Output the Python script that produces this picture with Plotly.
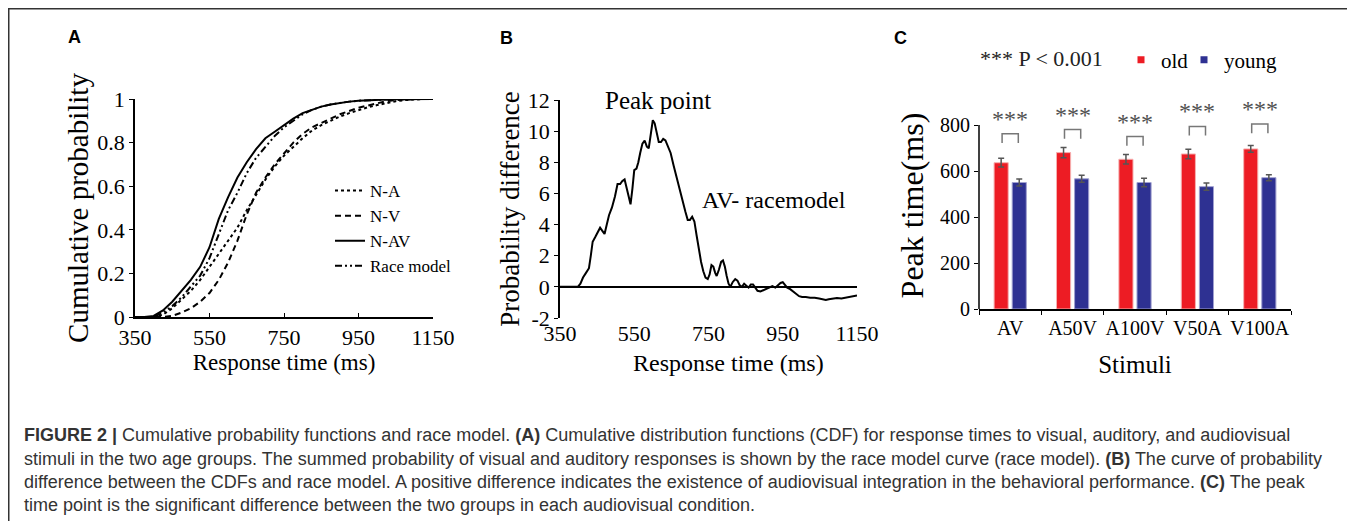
import plotly.graph_objects as go

# The page places the figure 8px from the top-left corner, so the figure is
# sized to fill the rest of the 1355x521 window.
OFF = 8
W, H = 1355 - OFF, 521 - OFF
SERIF = "Liberation Serif"

# ---------------- Panel A data (cumulative probability) ----------------
rt_grid = [350, 375, 400, 425, 450, 475, 500, 525, 550, 575, 600, 625, 650, 675,
           700, 725, 750, 775, 800, 825, 850, 875, 900, 925, 950, 975, 1000,
           1025, 1050, 1075, 1100, 1125, 1150]
cdf_na = [0, 0, 0, 0.01, 0.04, 0.08, 0.12, 0.17, 0.23, 0.29, 0.35, 0.41, 0.49, 0.56,
          0.63, 0.69, 0.74, 0.78, 0.82, 0.855, 0.88, 0.90, 0.92, 0.935, 0.95, 0.962,
          0.972, 0.982, 0.99, 0.995, 0.998, 1, 1]
cdf_nv = [0, 0, 0, 0, 0.005, 0.02, 0.04, 0.07, 0.11, 0.17, 0.25, 0.35, 0.47, 0.57,
          0.64, 0.70, 0.75, 0.80, 0.84, 0.87, 0.89, 0.91, 0.93, 0.945, 0.96, 0.97,
          0.98, 0.99, 0.995, 0.998, 1, 1, 1]
cdf_nav = [0, 0, 0.005, 0.03, 0.07, 0.12, 0.17, 0.23, 0.32, 0.45, 0.55, 0.64, 0.71, 0.77,
           0.82, 0.85, 0.88, 0.91, 0.935, 0.95, 0.965, 0.975, 0.983, 0.988, 0.992, 0.995,
           0.997, 0.998, 0.999, 1, 1, 1, 1]
cdf_race = [0, 0, 0, 0.02, 0.05, 0.09, 0.14, 0.19, 0.27, 0.38, 0.49, 0.57, 0.66, 0.73,
            0.78, 0.83, 0.87, 0.90, 0.93, 0.95, 0.965, 0.975, 0.983, 0.988, 0.992, 0.995,
            0.997, 0.998, 0.999, 1, 1, 1, 1]

# ---------------- Panel B data (AV - race model) ----------------
diff_rt = [350, 398, 405, 412, 420, 428, 433, 438, 445, 452, 458, 464, 470, 476, 482,
           490, 498, 505, 512, 518, 524, 530, 536, 540, 545, 550, 556, 561, 566, 572,
           578, 584, 589, 594, 600, 605, 610, 616, 622, 628, 634, 640, 648, 656, 664,
           672, 680, 688, 694, 700, 706, 712, 718, 724, 730, 736, 742, 748, 753, 758,
           763, 768, 772, 778, 784, 789, 794, 799, 804, 809, 815, 822, 828, 834, 840,
           846, 852, 858, 864, 870, 876, 882, 890, 898, 906, 914, 922, 930, 938, 944,
           950, 956, 962, 970, 978, 986, 994, 1002, 1012, 1024, 1036, 1048, 1058, 1066,
           1074, 1084, 1096, 1108, 1120, 1132, 1142, 1150]
diff_val = [0, 0, 0.2, 0.6, 0.9, 1.2, 2.0, 2.9, 3.2, 3.5, 3.8, 3.6, 3.4, 4.0, 4.6,
            5.1, 5.8, 6.6, 6.6, 6.8, 6.9, 6.3, 5.6, 5.3, 6.3, 7.5, 7.6, 8.0, 8.6, 9.2,
            9.4, 9.0, 8.9, 9.6, 10.7, 10.5, 9.9, 9.3, 9.3, 9.5, 9.4, 9.1, 8.6, 7.8, 7.0,
            6.3, 5.5, 4.8, 4.3, 4.3, 4.5, 4.2, 3.3, 2.4, 1.6, 1.0, 0.6, 0.5, 0.8, 1.4,
            1.3, 0.9, 0.7, 1.1, 1.6, 1.7, 1.3, 0.7, 0.2, 0.0, 0.3, 0.5, 0.4, 0.1, 0.0,
            0.2, 0.1, -0.05, 0.15, 0.15, -0.05, -0.25, -0.3, -0.2, -0.1, -0.05, 0.05, -0.05, 0.1, 0.25,
            0.3, 0.1, -0.05, -0.15, -0.3, -0.45, -0.6, -0.65, -0.65, -0.7, -0.7, -0.75, -0.78, -0.85,
            -0.8, -0.75, -0.72, -0.75, -0.7, -0.65, -0.62, -0.55]

# ---------------- Panel C data (peak time) ----------------
stimuli = ["AV", "A50V", "A100V", "V50A", "V100A"]
peak_old = [636, 680, 651, 674, 696]
peak_young = [550, 566, 550, 532, 571]
err_old = [19, 22, 21, 21, 15]
err_young = [15, 15, 19, 16, 13]
sig_bracket_top = [762, 780, 750, 794, 804]
sig_label = ["***", "***", "***", "***", "***"]

caption_lines = [
    "<b>FIGURE 2 |</b> Cumulative probability functions and race model. <b>(A)</b> Cumulative distribution "
    "functions (CDF) for response times to visual, auditory, and audiovisual",
    "stimuli in the two age groups. The summed probability of visual and auditory responses is shown by the "
    "race model curve (race model). <b>(B)</b> The curve of probability",
    "difference between the CDFs and race model. A positive difference indicates the existence of audiovisual "
    "integration in the behavioral performance. <b>(C)</b> The peak",
    "time point is the significant difference between the two groups in each audiovisual condition.",
]

RED = "#ED1C24"
BLUE = "#2E3192"


def px_x(p):
    return (p - OFF) / W


def px_y(p):
    return 1 - (p - OFF) / H


fig = go.Figure()

# Panel A traces
fig.add_trace(go.Scatter(x=rt_grid, y=cdf_na, name="N-A", mode="lines",
                         line=dict(color="black", width=2, dash="dot"),
                         xaxis="x", yaxis="y", cliponaxis=False, legend="legend"))
fig.add_trace(go.Scatter(x=rt_grid, y=cdf_nv, name="N-V", mode="lines",
                         line=dict(color="black", width=2, dash="6px,4px"),
                         xaxis="x", yaxis="y", cliponaxis=False, legend="legend"))
fig.add_trace(go.Scatter(x=rt_grid, y=cdf_nav, name="N-AV", mode="lines",
                         line=dict(color="black", width=2),
                         xaxis="x", yaxis="y", cliponaxis=False, legend="legend"))
fig.add_trace(go.Scatter(x=rt_grid, y=cdf_race, name="Race model", mode="lines",
                         line=dict(color="black", width=2, dash="7px,3px,2px,3px,2px,3px"),
                         xaxis="x", yaxis="y", cliponaxis=False, legend="legend"))

# Panel B trace
fig.add_trace(go.Scatter(x=diff_rt, y=diff_val, name="AV- racemodel", mode="lines",
                         line=dict(color="black", width=2),
                         xaxis="x2", yaxis="y2", showlegend=False, cliponaxis=False))

# Panel C bars
fig.add_trace(go.Bar(x=stimuli, y=peak_old, name="old",
                     marker=dict(color=RED, line=dict(color="#f6b0b0", width=1)),
                     error_y=dict(type="data", array=err_old, color="#555555", thickness=1.5, width=3),
                     xaxis="x3", yaxis="y3", showlegend=False))
fig.add_trace(go.Bar(x=stimuli, y=peak_young, name="young",
                     marker=dict(color=BLUE, line=dict(color="#a0a0d0", width=1)),
                     error_y=dict(type="data", array=err_young, color="#555555", thickness=1.5, width=3),
                     xaxis="x3", yaxis="y3", showlegend=False))
# legend proxies for panel C (one small legend each, so their spacing matches)
fig.add_trace(go.Scatter(x=[None], y=[None], mode="markers", name="old",
                         marker=dict(symbol="square", size=7, color=RED),
                         xaxis="x3", yaxis="y3", legend="legend2"))
fig.add_trace(go.Scatter(x=[None], y=[None], mode="markers", name="young",
                         marker=dict(symbol="square", size=7, color=BLUE),
                         xaxis="x3", yaxis="y3", legend="legend3"))

# significance brackets + stars
shapes = []
annotations = []
for i, top in enumerate(sig_bracket_top):
    shapes.append(dict(type="path", xref="x3", yref="y3",
                       path=f"M {i - 0.13} {top - 40} L {i - 0.13} {top} L {i + 0.13} {top} L {i + 0.13} {top - 40}",
                       line=dict(color="#777777", width=1.5)))
    annotations.append(dict(x=i, y=top, xref="x3", yref="y3", text=sig_label[i], showarrow=False,
                            xanchor="center", yanchor="bottom", yshift=0,
                            font=dict(family=SERIF, size=24, color="#505050")))

# panel C y axis line only up to 800
shapes.append(dict(type="line", xref="x3 domain", yref="y3", x0=0, x1=0, y0=0, y1=800,
                   line=dict(color="black", width=1.5)))

# figure frame (left and top edge)
shapes.append(dict(type="path", xref="paper", yref="paper",
                   path=f"M {0.75 / W} 0 L {0.75 / W} {1 - 0.75 / H} L 1 {1 - 0.75 / H}",
                   line=dict(color="#333333", width=1.5)))

# panel letters
for letter, (lx, ly) in zip("ABC", [(74, 37), (506, 38), (901, 38)]):
    annotations.append(dict(x=px_x(lx), y=px_y(ly), xref="paper", yref="paper", text=f"<b>{letter}</b>",
                            showarrow=False, xanchor="center", yanchor="middle",
                            font=dict(family="Liberation Sans", size=18, color="black")))

# panel B annotations
annotations.append(dict(x=614, y=12, xref="x2", yref="y2", text="Peak point", showarrow=False,
                        xanchor="center", yanchor="middle",
                        font=dict(family=SERIF, size=25, color="black")))
annotations.append(dict(x=927, y=5.6, xref="x2", yref="y2", text="AV- racemodel", showarrow=False,
                        xanchor="center", yanchor="middle",
                        font=dict(family=SERIF, size=24, color="black")))
annotations.append(dict(x=px_x(728), y=px_y(363), xref="paper", yref="paper", text="Response time (ms)",
                        showarrow=False, xanchor="center", yanchor="middle",
                        font=dict(family=SERIF, size=24, color="black")))

# panel C p-value note
annotations.append(dict(x=px_x(1041), y=px_y(58), xref="paper", yref="paper", text="*** P < 0.001",
                        showarrow=False, xanchor="center", yanchor="middle",
                        font=dict(family=SERIF, size=22, color="#222222")))

# caption, one annotation per line
for line, cy in zip(caption_lines, [435, 458.5, 482, 505]):
    annotations.append(dict(x=px_x(22), y=px_y(cy), xref="paper", yref="paper", text=line, showarrow=False,
                            xanchor="left", yanchor="middle", align="left",
                            font=dict(family="Liberation Sans", size=18, color="#333333")))

tickfont = dict(family=SERIF, size=22, color="black")
cleg = dict(xanchor="left", yanchor="middle", orientation="h", bgcolor="rgba(0,0,0,0)",
            font=dict(family=SERIF, size=21, color="black"), itemwidth=30)

fig.update_layout(
    width=W, height=H, margin=dict(l=0, r=0, t=0, b=0, autoexpand=False),
    paper_bgcolor="white", plot_bgcolor="white",
    font=dict(family=SERIF, color="black"),
    barmode="group", bargap=0.42, bargroupgap=0.22,
    shapes=shapes, annotations=annotations,
    xaxis=dict(domain=[px_x(135), px_x(433)], anchor="y", range=[350, 1150], automargin=False,
               tickvals=[350, 550, 750, 950, 1150], showline=True, linecolor="black", linewidth=1.5,
               ticks="inside", ticklen=4, tickcolor="black", showgrid=False, zeroline=False,
               tickfont=tickfont,
               title=dict(text="Response time (ms)", font=dict(family=SERIF, size=23), standoff=2)),
    yaxis=dict(domain=[px_y(317), px_y(99)], anchor="x", range=[0, 1], automargin=False,
               tickvals=[0, 0.2, 0.4, 0.6, 0.8, 1], showline=True, linecolor="black", linewidth=1.5,
               ticks="outside", ticklen=4, tickcolor="black", showgrid=False, zeroline=False,
               tickfont=tickfont,
               title=dict(text="Cumulative probability", font=dict(family=SERIF, size=29), standoff=0)),
    xaxis2=dict(domain=[px_x(560), px_x(857)], anchor="y2", range=[350, 1150], automargin=False,
                tickvals=[350, 550, 750, 950, 1150], showline=False, ticks="", showgrid=False,
                zeroline=False, tickfont=tickfont),
    yaxis2=dict(domain=[px_y(318), px_y(100)], anchor="x2", range=[-2, 12], automargin=False,
                tickvals=[-2, 0, 2, 4, 6, 8, 10, 12],
                ticktext=["-2", "0", "2", "4", "6", "8", "10", "12"],
                showline=True, linecolor="black", linewidth=1.5,
                ticks="outside", ticklen=4, tickcolor="black", showgrid=False,
                zeroline=True, zerolinecolor="black", zerolinewidth=1.5,
                tickfont=tickfont,
                title=dict(text="Probability difference", font=dict(family=SERIF, size=27), standoff=0)),
    xaxis3=dict(domain=[px_x(979), px_x(1291)], anchor="y3", automargin=False, tickangle=0,
                showline=True, linecolor="black", linewidth=1.5,
                ticks="outside", tickson="boundaries", ticklen=4, tickcolor="black", showgrid=False,
                tickfont=dict(family=SERIF, size=20, color="black"),
                title=dict(text="Stimuli", font=dict(family=SERIF, size=25), standoff=18)),
    yaxis3=dict(domain=[px_y(309), px_y(102)], anchor="x3", range=[0, 900], automargin=False,
                tickvals=[0, 200, 400, 600, 800], showline=False,
                ticks="outside", ticklen=4, tickcolor="black", showgrid=False, zeroline=False,
                tickfont=dict(family=SERIF, size=20, color="black"),
                title=dict(text="Peak time(ms)", font=dict(family=SERIF, size=32), standoff=6)),
    legend=dict(x=px_x(330), y=px_y(173), xanchor="left", yanchor="top", bgcolor="rgba(0,0,0,0)",
                font=dict(family=SERIF, size=17, color="black"), itemwidth=30, tracegroupgap=0),
    legend2=dict(cleg, x=px_x(1121), y=px_y(60)),
    legend3=dict(cleg, x=px_x(1184), y=px_y(60)),
)

fig.write_html("out.html")
